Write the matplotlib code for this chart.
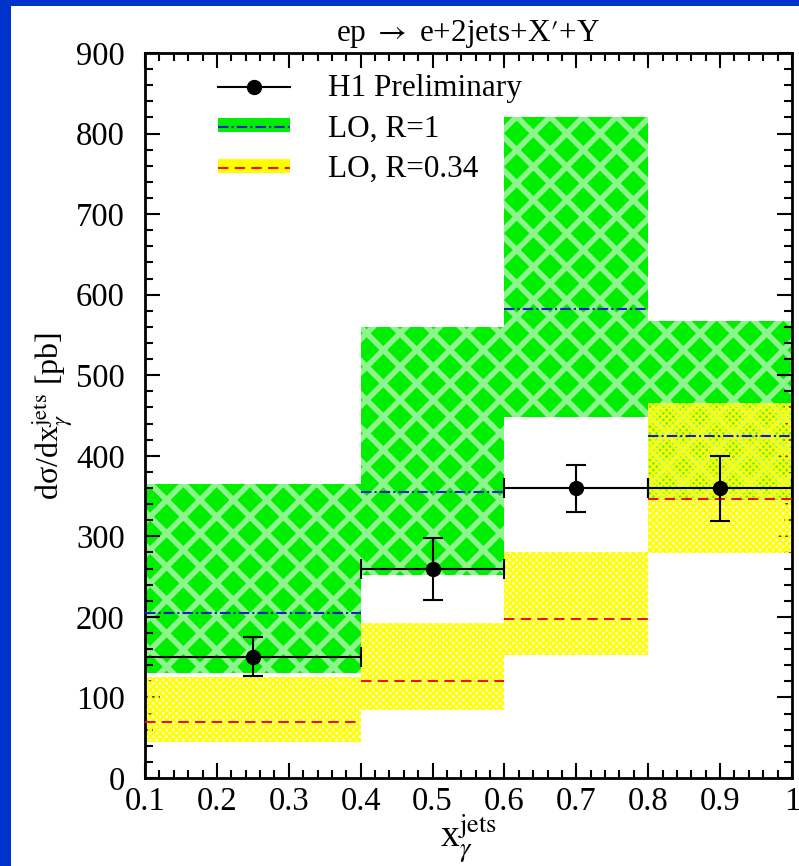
import matplotlib
matplotlib.use("Agg")
import matplotlib.pyplot as plt
from matplotlib.patches import Patch, Rectangle
from matplotlib.lines import Line2D
from matplotlib.legend_handler import HandlerTuple
from matplotlib.ticker import MultipleLocator

plt.rcParams["font.family"] = ["Liberation Serif", "DejaVu Serif"]
plt.rcParams["mathtext.fontset"] = "stix"

# bins in x_gamma^jets
bin_lo = [0.1, 0.4, 0.6, 0.8]
bin_hi = [0.4, 0.6, 0.8, 1.0]

# H1 Preliminary
h1_x = [0.25, 0.5, 0.7, 0.9]
h1_y = [150, 260, 360, 360]
h1_up = [175, 298, 388, 400]
h1_down = [127, 221, 330, 319]

# LO, R=1 (band + central)
lo1_low = [130, 252, 448, 345]
lo1_high = [365, 560, 820, 567]
lo1_cen = [205, 355, 582, 425]

# LO, R=0.34 (band + central)
lo034_low = [45, 84, 153, 279]
lo034_high = [125, 192, 280, 465]
lo034_cen = [70, 121, 198, 346]

fig = plt.figure(figsize=(7.99, 8.66), dpi=100)
fig.patch.set_facecolor("#0033cc")
fig.add_artist(Rectangle((11 / 799, 0), 1 - 11 / 799, 1 - 6 / 866,
                         transform=fig.transFigure, facecolor="white",
                         edgecolor="none", zorder=0))

ax = fig.add_axes([145 / 799, 1 - 778 / 866, (792 - 145) / 799, (778 - 53) / 866])
ax.set_facecolor("white")

widths = [h - l for l, h in zip(bin_lo, bin_hi)]

green = ax.bar(bin_lo, [h - l for l, h in zip(lo1_low, lo1_high)], bottom=lo1_low,
               width=widths, align="edge", facecolor="#00ee00",
               edgecolor="#8ef58e", linewidth=0, hatch="x", zorder=1)
for p in green:
    if hasattr(p, "set_hatch_linewidth"):
        p.set_hatch_linewidth(4.0)

yellow = ax.bar(bin_lo, [h - l for l, h in zip(lo034_low, lo034_high)], bottom=lo034_low,
                width=widths, align="edge", facecolor=(1, 1, 0.75, 0.35),
                edgecolor="#ffff00", linewidth=0, hatch="xxxxx", zorder=2)
for p in yellow:
    if hasattr(p, "set_hatch_linewidth"):
        p.set_hatch_linewidth(1.6)

ax.hlines(lo1_cen, bin_lo, bin_hi, colors="#1a1acc", linestyles=(0, (5, 1.5, 1, 1.5)),
          linewidth=1.5, zorder=3)
ax.hlines(lo034_cen, bin_lo, bin_hi, colors="#ee1111", linestyles=(0, (5, 3)),
          linewidth=1.5, zorder=3)

xerr = [[x - l for x, l in zip(h1_x, bin_lo)], [h - x for x, h in zip(h1_x, bin_hi)]]
yerr = [[y - d for y, d in zip(h1_y, h1_down)], [u - y for y, u in zip(h1_y, h1_up)]]
ax.errorbar(h1_x, h1_y, xerr=xerr, yerr=yerr, fmt="o", color="black",
            markersize=10, elinewidth=1.5, capsize=7, capthick=1.5, zorder=5)

ax.set_xlim(0.1, 1.0)
ax.set_ylim(0, 900)
ax.xaxis.set_major_locator(MultipleLocator(0.1))
ax.xaxis.set_minor_locator(MultipleLocator(0.02))
ax.yaxis.set_major_locator(MultipleLocator(100))
ax.yaxis.set_minor_locator(MultipleLocator(20))
ax.set_xticks([0.1, 0.2, 0.3, 0.4, 0.5, 0.6, 0.7, 0.8, 0.9, 1.0])
ax.set_xticklabels(["0.1", "0.2", "0.3", "0.4", "0.5", "0.6", "0.7", "0.8", "0.9", "1"])
ax.tick_params(which="both", direction="in", top=True, right=True, labelsize=23.5,
               width=1.5, colors="black")
ax.tick_params(which="major", length=11)
ax.tick_params(axis="x", which="major", pad=6)
ax.tick_params(axis="y", which="major", pad=14.5)
ax.tick_params(which="minor", length=6)
for s in ax.spines.values():
    s.set_linewidth(2)

ax.set_ylabel("dσ/dx$_\\gamma^{\\rm jets}$ [pb]", fontsize=23, labelpad=0.5)
ax.set_xlabel(r"x$_\gamma^{\rm jets}$", fontsize=27, labelpad=-3)
ax.set_title(r"ep $\rightarrow$ e+2jets+X$\prime$+Y", fontsize=22.5, pad=9)

h_data = Line2D([], [], color="black", marker="o", markersize=10, linewidth=1.5)
h_lo1 = (Patch(facecolor="#00ee00", edgecolor="none"),
         Line2D([], [], color="#1a1acc", linestyle=(0, (5, 1.5, 1, 1.5)), linewidth=1.5))
h_lo034 = (Patch(facecolor="#ffff00", edgecolor="none"),
           Line2D([], [], color="#ee1111", linestyle=(0, (5, 3)), linewidth=1.5))
ax.legend([h_data, h_lo1, h_lo034], ["H1 Preliminary", "LO, R=1", "LO, R=0.34"],
          handler_map={tuple: HandlerTuple(ndivide=1)},
          loc="upper left", bbox_to_anchor=(0.07, 1.01), frameon=False,
          fontsize=22.5, handlelength=2.3, handleheight=0.3, labelspacing=0.37,
          handletextpad=1.2)

fig.savefig("out.png", dpi=100, facecolor=fig.get_facecolor())
